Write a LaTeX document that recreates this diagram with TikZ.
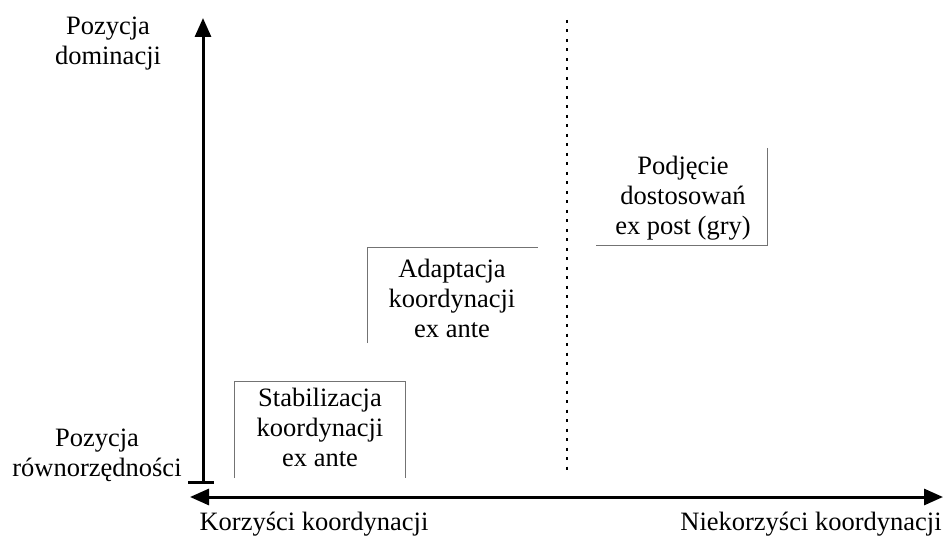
\documentclass[tikz,border=0pt]{standalone}
\usepackage{fontspec}
\setmainfont{Liberation Serif}
\usetikzlibrary{arrows.meta}
\begin{document}
\begin{tikzpicture}[x=1pt,y=-1pt,
  lbl/.style={font=\fontsize{26.5}{30}\selectfont, align=center, inner sep=0pt},
  axis/.style={line width=3pt},
  boxline/.style={line width=1pt, draw=black!55}]
\useasboundingbox (0,0) rectangle (943,540);
% coordinates
\coordinate (ytop) at (203,18);
\coordinate (ybot) at (203,482);
\coordinate (tickL) at (188,482);
\coordinate (tickR) at (214,482);
\coordinate (xl) at (190,497);
\coordinate (xr) at (943,497);
\coordinate (dt) at (567,20);
\coordinate (db) at (567,470);
% axes
\draw[axis, -{Triangle[length=19pt,width=16pt]}] (ybot) -- (ytop);
\draw[axis] (tickL) -- (tickR);
\draw[axis, {Triangle[length=19pt,width=16pt]}-{Triangle[length=19pt,width=16pt]}] (xl) -- (xr);
\draw[line width=1.4pt, dash pattern=on 3pt off 6.5pt] (dt) -- (db);
% boxes
\coordinate (s1) at (234,478); \coordinate (s2) at (234,381);
\coordinate (s3) at (405,381); \coordinate (s4) at (405,478);
\draw[boxline] (s1) -- (s2) -- (s3) -- (s4);
\coordinate (a1) at (367,343); \coordinate (a2) at (367,248); \coordinate (a3) at (538,248);
\draw[boxline] (a1) -- (a2) -- (a3);
\coordinate (p1) at (767,148); \coordinate (p2) at (767,246); \coordinate (p3) at (596,246);
\draw[boxline] (p1) -- (p2) -- (p3);
% labels
\node[lbl] (dom) at (108,44) {Pozycja\\dominacji};
\node[lbl] (row) at (97,455) {Pozycja\\równorzędności};
\node[lbl] (stab) at (320,427) {Stabilizacja\\koordynacji\\ex ante};
\node[lbl] (adap) at (452,298) {Adaptacja\\koordynacji\\ex ante};
\node[lbl] (podj) at (683,198) {Podjęcie\\dostosowań\\ex post (gry)};
\node[lbl] (kor) at (314,524) {Korzyści koordynacji};
\node[lbl] (niek) at (811,524) {Niekorzyści koordynacji};
\end{tikzpicture}
\end{document}
